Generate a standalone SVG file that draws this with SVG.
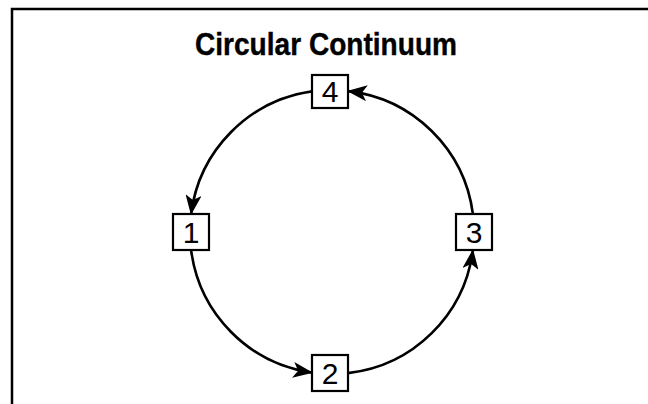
<svg xmlns="http://www.w3.org/2000/svg" width="648" height="404" viewBox="0 0 648 404">
<style>
.frame{fill:none;stroke:#000;stroke-width:2.5}
.box{fill:#fff;stroke:#000;stroke-width:2.2}
.num{font-family:"Liberation Sans",Arial,sans-serif;font-size:30px;fill:#000;text-anchor:middle}
.title{font-family:"Liberation Sans",Arial,sans-serif;font-size:32px;font-weight:bold;fill:#000;text-anchor:middle;stroke:#000;stroke-width:0.4}
.arc{fill:none;stroke:#000;stroke-width:2.6;marker-end:url(#ah)}
</style>
<defs>
<marker id="ah" viewBox="0 0 20 16" refX="19" refY="8" markerWidth="20" markerHeight="16" markerUnits="userSpaceOnUse" orient="auto">
<path d="M0,0 L20,8 L0,16 L5,8 Z" fill="#000"/>
</marker>
</defs>
<rect x="0" y="0" width="648" height="404" fill="#fff"/>
<path class="frame" d="M12,404 V9 H648"/>
<text class="title" x="326" y="55" textLength="262" lengthAdjust="spacingAndGlyphs">Circular Continuum</text>
<g id="connectors">
<path class="arc" d="M312,91.4 A142,142 0 0 0 191.1,214"/>
<path class="arc" d="M191.1,250 A142,142 0 0 0 312,372.6"/>
<path class="arc" d="M348,373.1 A142,142 0 0 0 472.9,250"/>
<path class="arc" d="M472.9,214 A142,142 0 0 0 348,91.1"/>
</g>
<g id="node1"><rect class="box" x="173" y="214" width="36" height="36"/><text class="num" x="191" y="243">1</text></g>
<g id="node2"><rect class="box" x="312" y="355" width="36" height="36"/><text class="num" x="330" y="384">2</text></g>
<g id="node3"><rect class="box" x="456" y="214" width="36" height="36"/><text class="num" x="474" y="243">3</text></g>
<g id="node4"><rect class="box" x="312" y="75" width="36" height="33"/><text class="num" x="330" y="102">4</text></g>
</svg>
